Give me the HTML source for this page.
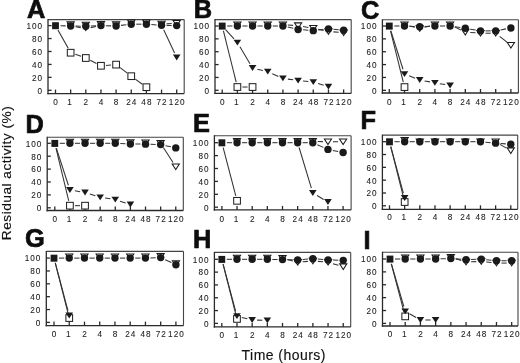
<!DOCTYPE html>
<html><head><meta charset="utf-8"><style>
html,body{margin:0;padding:0;background:#fff;}
body{width:520px;height:363px;overflow:hidden;}
svg{display:block;filter:blur(0.35px);}
.fr line{stroke:#2a2a2a;stroke-width:1.3;}
.fr line.lt{stroke:#444;stroke-width:1.1;}
.tl text{font-family:"Liberation Sans",sans-serif;font-size:8.2px;letter-spacing:1px;fill:#1a1a1a;stroke:#1a1a1a;stroke-width:0.08px;}
.pl{font-family:"Liberation Sans",sans-serif;font-weight:bold;font-size:25.4px;fill:#0d0d0d;stroke:#0d0d0d;stroke-width:0.7px;}
.ln line{stroke:#333;stroke-width:1.05;}
.fs{fill:#1a1a1a;}
.os{fill:#fff;stroke:#1a1a1a;stroke-width:1;}
.ot{fill:#fff;stroke:#1a1a1a;stroke-width:1.05;stroke-linejoin:miter;}
.ft{fill:#1a1a1a;}
.ci{fill:#1a1a1a;}
.ax{font-family:"Liberation Sans",sans-serif;font-size:13.5px;letter-spacing:0.5px;fill:#111;stroke:#111;stroke-width:0.15px;}
</style></head><body>
<svg width="520" height="363" viewBox="0 0 520 363">
<g>
<g class="fr">
<line class="lt" x1="48" y1="19.6" x2="184.2" y2="19.6"/>
<line class="lt" x1="184.2" y1="19.6" x2="184.2" y2="93.6"/>
<line x1="48" y1="19.1" x2="48" y2="94.3"/>
<line x1="47.3" y1="93.6" x2="184.2" y2="93.6"/>
<line x1="48" y1="90.3" x2="51.6" y2="90.3"/>
<line x1="48" y1="77.36" x2="51.6" y2="77.36"/>
<line x1="48" y1="64.42" x2="51.6" y2="64.42"/>
<line x1="48" y1="51.48" x2="51.6" y2="51.48"/>
<line x1="48" y1="38.54" x2="51.6" y2="38.54"/>
<line x1="48" y1="25.6" x2="51.6" y2="25.6"/>
<line x1="55.5" y1="93.6" x2="55.5" y2="89.6"/>
<line x1="70.65" y1="93.6" x2="70.65" y2="89.6"/>
<line x1="85.8" y1="93.6" x2="85.8" y2="89.6"/>
<line x1="100.95" y1="93.6" x2="100.95" y2="89.6"/>
<line x1="116.1" y1="93.6" x2="116.1" y2="89.6"/>
<line x1="131.25" y1="93.6" x2="131.25" y2="89.6"/>
<line x1="146.4" y1="93.6" x2="146.4" y2="89.6"/>
<line x1="161.55" y1="93.6" x2="161.55" y2="89.6"/>
<line x1="176.7" y1="93.6" x2="176.7" y2="89.6"/>
</g>
<g class="tl">
<text x="43.1" y="93.65" text-anchor="end">0</text>
<text x="43.1" y="80.71" text-anchor="end">20</text>
<text x="43.1" y="67.77" text-anchor="end">40</text>
<text x="43.1" y="54.83" text-anchor="end">60</text>
<text x="43.1" y="41.89" text-anchor="end">80</text>
<text x="43.1" y="28.95" text-anchor="end">100</text>
<text x="56" y="104.85" text-anchor="middle">0</text>
<text x="70.15" y="104.85" text-anchor="middle">1</text>
<text x="86.3" y="104.85" text-anchor="middle">2</text>
<text x="101.45" y="104.85" text-anchor="middle">4</text>
<text x="116.6" y="104.85" text-anchor="middle">8</text>
<text x="131.75" y="104.85" text-anchor="middle">24</text>
<text x="146.9" y="104.85" text-anchor="middle">48</text>
<text x="162.05" y="104.85" text-anchor="middle">72</text>
<text x="177.2" y="104.85" text-anchor="middle">120</text>
</g>
<text class="pl" x="27.1" y="17.8">A</text>
<g class="ln">
<line x1="57.94" y1="29.96" x2="68.21" y2="48.34"/>
<line x1="75.37" y1="54.36" x2="81.08" y2="56.36"/>
<line x1="90.25" y1="60.3" x2="96.5" y2="63.5"/>
<line x1="105.94" y1="65.4" x2="111.11" y2="65"/>
<line x1="120.07" y1="67.65" x2="127.28" y2="73.16"/>
<line x1="135.3" y1="79.13" x2="142.35" y2="84.26"/>
<line x1="75.58" y1="26.83" x2="80.87" y2="27.73"/>
<line x1="90.71" y1="27.61" x2="96.04" y2="26.56"/>
<line x1="163.68" y1="29.8" x2="174.57" y2="52.97"/>
<line x1="166.55" y1="23.77" x2="171.7" y2="23.55"/>
<line x1="60.5" y1="25.73" x2="65.65" y2="25.86"/>
<line x1="75.65" y1="26.07" x2="80.8" y2="26.16"/>
<line x1="90.8" y1="26.03" x2="95.95" y2="25.81"/>
<line x1="105.95" y1="25.73" x2="111.1" y2="25.86"/>
<line x1="121.06" y1="25.39" x2="126.29" y2="24.77"/>
<line x1="136.25" y1="24.18" x2="141.4" y2="24.18"/>
<line x1="151.39" y1="24.54" x2="156.56" y2="24.91"/>
<line x1="166.55" y1="25.38" x2="171.7" y2="25.49"/>
</g>
<g><rect class="fs" x="52.1" y="22.2" width="6.8" height="7.0"/><rect class="os" x="67.3" y="49.36" width="6.7" height="6.7"/><path class="ot" d="M67.05 21.89H74.25L70.65 27.49Z"/><path class="ft" d="M66.85 23.09H74.45L70.65 28.89Z"/><circle class="ci" cx="70.65" cy="25.99" r="3.7"/><rect class="os" x="82.45" y="54.66" width="6.7" height="6.7"/><path class="ot" d="M82.2 22.15H89.4L85.8 27.75Z"/><path class="ft" d="M82 25.68H89.6L85.8 31.48Z"/><circle class="ci" cx="85.8" cy="26.25" r="3.7"/><rect class="os" x="97.6" y="62.43" width="6.7" height="6.7"/><path class="ot" d="M97.35 21.51H104.55L100.95 27.11Z"/><path class="ft" d="M97.15 22.7H104.75L100.95 28.5Z"/><circle class="ci" cx="100.95" cy="25.6" r="3.7"/><rect class="os" x="112.75" y="61.26" width="6.7" height="6.7"/><path class="ot" d="M112.5 21.89H119.7L116.1 27.49Z"/><path class="ft" d="M112.3 23.09H119.9L116.1 28.89Z"/><circle class="ci" cx="116.1" cy="25.99" r="3.7"/><rect class="os" x="127.9" y="72.85" width="6.7" height="6.7"/><path class="ot" d="M127.65 20.08H134.85L131.25 25.68Z"/><path class="ft" d="M127.45 21.28H135.05L131.25 27.08Z"/><circle class="ci" cx="131.25" cy="24.18" r="3.7"/><rect class="os" x="143.05" y="83.84" width="6.7" height="6.7"/><path class="ot" d="M142.8 20.08H150L146.4 25.68Z"/><path class="ft" d="M142.6 21.28H150.2L146.4 27.08Z"/><circle class="ci" cx="146.4" cy="24.18" r="3.7"/><path class="ot" d="M157.95 21.18H165.15L161.55 26.78Z"/><path class="ft" d="M157.75 22.38H165.35L161.55 28.18Z"/><circle class="ci" cx="161.55" cy="25.28" r="3.7"/><path class="ot" d="M173.1 20.54H180.3L176.7 26.14Z"/><path class="ft" d="M172.9 54.6H180.5L176.7 60.4Z"/><circle class="ci" cx="176.7" cy="25.6" r="3.7"/></g>
<g class="fr">
<line class="lt" x1="215" y1="19.6" x2="351.2" y2="19.6"/>
<line class="lt" x1="351.2" y1="19.6" x2="351.2" y2="93.4"/>
<line x1="215" y1="19.1" x2="215" y2="94.1"/>
<line x1="214.3" y1="93.4" x2="351.2" y2="93.4"/>
<line x1="215" y1="90.3" x2="218.6" y2="90.3"/>
<line x1="215" y1="77.44" x2="218.6" y2="77.44"/>
<line x1="215" y1="64.58" x2="218.6" y2="64.58"/>
<line x1="215" y1="51.72" x2="218.6" y2="51.72"/>
<line x1="215" y1="38.86" x2="218.6" y2="38.86"/>
<line x1="215" y1="26" x2="218.6" y2="26"/>
<line x1="222.2" y1="93.4" x2="222.2" y2="89.4"/>
<line x1="237.38" y1="93.4" x2="237.38" y2="89.4"/>
<line x1="252.56" y1="93.4" x2="252.56" y2="89.4"/>
<line x1="267.74" y1="93.4" x2="267.74" y2="89.4"/>
<line x1="282.92" y1="93.4" x2="282.92" y2="89.4"/>
<line x1="298.1" y1="93.4" x2="298.1" y2="89.4"/>
<line x1="313.28" y1="93.4" x2="313.28" y2="89.4"/>
<line x1="328.46" y1="93.4" x2="328.46" y2="89.4"/>
<line x1="343.64" y1="93.4" x2="343.64" y2="89.4"/>
</g>
<g class="tl">
<text x="210.1" y="93.65" text-anchor="end">0</text>
<text x="210.1" y="80.79" text-anchor="end">20</text>
<text x="210.1" y="67.93" text-anchor="end">40</text>
<text x="210.1" y="55.07" text-anchor="end">60</text>
<text x="210.1" y="42.21" text-anchor="end">80</text>
<text x="210.1" y="29.35" text-anchor="end">100</text>
<text x="222.7" y="104.95" text-anchor="middle">0</text>
<text x="236.88" y="104.95" text-anchor="middle">1</text>
<text x="253.06" y="104.95" text-anchor="middle">2</text>
<text x="268.24" y="104.95" text-anchor="middle">4</text>
<text x="283.42" y="104.95" text-anchor="middle">8</text>
<text x="298.6" y="104.95" text-anchor="middle">24</text>
<text x="313.78" y="104.95" text-anchor="middle">48</text>
<text x="328.96" y="104.95" text-anchor="middle">72</text>
<text x="344.14" y="104.95" text-anchor="middle">120</text>
</g>
<text class="pl" x="193.8" y="17.8">B</text>
<g class="ln">
<line x1="223.41" y1="30.85" x2="236.17" y2="82.17"/>
<line x1="242.38" y1="87.02" x2="247.56" y2="87.02"/>
<line x1="225.58" y1="29.68" x2="234" y2="38.84"/>
<line x1="239.94" y1="46.82" x2="250" y2="63.69"/>
<line x1="257.43" y1="69.14" x2="262.87" y2="70.43"/>
<line x1="272.29" y1="73.65" x2="278.37" y2="76.4"/>
<line x1="287.87" y1="79.14" x2="293.15" y2="79.85"/>
<line x1="303.07" y1="81.03" x2="308.31" y2="81.56"/>
<line x1="318.07" y1="83.49" x2="323.67" y2="85.15"/>
<line x1="287.91" y1="25.03" x2="293.11" y2="25.36"/>
<line x1="303.03" y1="26.51" x2="308.35" y2="27.42"/>
<line x1="318.17" y1="29.29" x2="323.57" y2="30.43"/>
<line x1="333.44" y1="31.89" x2="338.66" y2="32.33"/>
<line x1="227.2" y1="26" x2="232.38" y2="26"/>
<line x1="242.38" y1="26" x2="247.56" y2="26"/>
<line x1="257.56" y1="26" x2="262.74" y2="26"/>
<line x1="272.74" y1="26" x2="277.92" y2="26"/>
<line x1="287.79" y1="27.11" x2="293.23" y2="28.36"/>
<line x1="303.09" y1="29.85" x2="308.29" y2="30.25"/>
<line x1="318.25" y1="30.06" x2="323.49" y2="29.46"/>
<line x1="333.44" y1="29.32" x2="338.66" y2="29.76"/>
</g>
<g><rect class="fs" x="218.8" y="22.6" width="6.8" height="7.0"/><rect class="os" x="234.03" y="83.67" width="6.7" height="6.7"/><path class="ot" d="M233.78 21.91H240.98L237.38 27.51Z"/><path class="ft" d="M233.58 39.63H241.18L237.38 45.43Z"/><circle class="ci" cx="237.38" cy="26" r="3.7"/><rect class="os" x="249.21" y="83.67" width="6.7" height="6.7"/><path class="ot" d="M248.96 21.91H256.16L252.56 27.51Z"/><path class="ft" d="M248.76 65.09H256.36L252.56 70.89Z"/><circle class="ci" cx="252.56" cy="26" r="3.7"/><path class="ot" d="M264.14 21.91H271.34L267.74 27.51Z"/><path class="ft" d="M263.94 68.69H271.54L267.74 74.49Z"/><circle class="ci" cx="267.74" cy="26" r="3.7"/><path class="ot" d="M279.32 21.91H286.52L282.92 27.51Z"/><path class="ft" d="M279.12 75.57H286.72L282.92 81.37Z"/><circle class="ci" cx="282.92" cy="26" r="3.7"/><path class="ot" d="M294.5 22.88H301.7L298.1 28.48Z"/><path class="ft" d="M294.3 77.63H301.9L298.1 83.43Z"/><circle class="ci" cx="298.1" cy="29.47" r="3.7"/><path class="ot" d="M309.68 25.45H316.88L313.28 31.05Z"/><path class="ft" d="M309.48 79.17H317.08L313.28 84.97Z"/><circle class="ci" cx="313.28" cy="30.63" r="3.7"/><path class="ot" d="M324.86 28.67H332.06L328.46 34.27Z"/><path class="ft" d="M324.66 83.67H332.26L328.46 89.47Z"/><circle class="ci" cx="328.46" cy="28.89" r="3.7"/><path class="ot" d="M340.04 29.95H347.24L343.64 35.55Z"/><circle class="ci" cx="343.64" cy="30.18" r="3.7"/></g>
<g class="fr">
<line class="lt" x1="382.4" y1="19.8" x2="518.4" y2="19.8"/>
<line class="lt" x1="518.4" y1="19.8" x2="518.4" y2="93"/>
<line x1="382.4" y1="19.3" x2="382.4" y2="93.7"/>
<line x1="381.7" y1="93" x2="518.4" y2="93"/>
<line x1="382.4" y1="90.3" x2="386" y2="90.3"/>
<line x1="382.4" y1="77.44" x2="386" y2="77.44"/>
<line x1="382.4" y1="64.58" x2="386" y2="64.58"/>
<line x1="382.4" y1="51.72" x2="386" y2="51.72"/>
<line x1="382.4" y1="38.86" x2="386" y2="38.86"/>
<line x1="382.4" y1="26" x2="386" y2="26"/>
<line x1="389.3" y1="93" x2="389.3" y2="89"/>
<line x1="404.5" y1="93" x2="404.5" y2="89"/>
<line x1="419.7" y1="93" x2="419.7" y2="89"/>
<line x1="434.9" y1="93" x2="434.9" y2="89"/>
<line x1="450.1" y1="93" x2="450.1" y2="89"/>
<line x1="465.3" y1="93" x2="465.3" y2="89"/>
<line x1="480.5" y1="93" x2="480.5" y2="89"/>
<line x1="495.7" y1="93" x2="495.7" y2="89"/>
<line x1="510.9" y1="93" x2="510.9" y2="89"/>
</g>
<g class="tl">
<text x="377.5" y="93.65" text-anchor="end">0</text>
<text x="377.5" y="80.79" text-anchor="end">20</text>
<text x="377.5" y="67.93" text-anchor="end">40</text>
<text x="377.5" y="55.07" text-anchor="end">60</text>
<text x="377.5" y="42.21" text-anchor="end">80</text>
<text x="377.5" y="29.35" text-anchor="end">100</text>
<text x="389.8" y="104.85" text-anchor="middle">0</text>
<text x="404" y="104.85" text-anchor="middle">1</text>
<text x="420.2" y="104.85" text-anchor="middle">2</text>
<text x="435.4" y="104.85" text-anchor="middle">4</text>
<text x="450.6" y="104.85" text-anchor="middle">8</text>
<text x="465.8" y="104.85" text-anchor="middle">24</text>
<text x="481" y="104.85" text-anchor="middle">48</text>
<text x="496.2" y="104.85" text-anchor="middle">72</text>
<text x="511.4" y="104.85" text-anchor="middle">120</text>
</g>
<text class="pl" x="360.9" y="18.7">C</text>
<g class="ln">
<line x1="390.51" y1="30.85" x2="403.29" y2="82.23"/>
<line x1="390.81" y1="30.77" x2="402.99" y2="69.27"/>
<line x1="409.15" y1="75.86" x2="415.05" y2="78.18"/>
<line x1="424.62" y1="80.91" x2="429.98" y2="81.88"/>
<line x1="439.82" y1="83.65" x2="445.18" y2="84.6"/>
<line x1="409.35" y1="25.94" x2="414.85" y2="27.34"/>
<line x1="424.55" y1="27.34" x2="430.05" y2="25.94"/>
<line x1="454.6" y1="26.9" x2="460.8" y2="29.92"/>
<line x1="470.29" y1="32.47" x2="475.51" y2="32.84"/>
<line x1="485.5" y1="33.2" x2="490.7" y2="33.2"/>
<line x1="499.62" y1="36.3" x2="506.98" y2="42.12"/>
<line x1="394.3" y1="26" x2="399.5" y2="26"/>
<line x1="409.49" y1="26.25" x2="414.71" y2="26.52"/>
<line x1="424.69" y1="26.52" x2="429.91" y2="26.25"/>
<line x1="439.9" y1="26" x2="445.1" y2="26"/>
<line x1="455.04" y1="26.75" x2="460.36" y2="27.56"/>
<line x1="470.23" y1="29.15" x2="475.57" y2="30.05"/>
<line x1="485.5" y1="30.89" x2="490.7" y2="30.89"/>
<line x1="500.61" y1="29.93" x2="505.99" y2="28.88"/>
</g>
<g><rect class="fs" x="385.9" y="22.6" width="6.8" height="7.0"/><rect class="os" x="401.15" y="83.73" width="6.7" height="6.7"/><path class="ot" d="M400.9 21.91H408.1L404.5 27.51Z"/><path class="ft" d="M400.7 71.13H408.3L404.5 76.93Z"/><circle class="ci" cx="404.5" cy="26" r="3.7"/><path class="ot" d="M416.1 25.77H423.3L419.7 31.37Z"/><path class="ft" d="M415.9 77.11H423.5L419.7 82.91Z"/><circle class="ci" cx="419.7" cy="26.77" r="3.7"/><path class="ot" d="M431.3 21.91H438.5L434.9 27.51Z"/><path class="ft" d="M431.1 79.88H438.7L434.9 85.68Z"/><circle class="ci" cx="434.9" cy="26" r="3.7"/><path class="ot" d="M446.5 21.91H453.7L450.1 27.51Z"/><path class="ft" d="M446.3 82.58H453.9L450.1 88.38Z"/><circle class="ci" cx="450.1" cy="26" r="3.7"/><path class="ot" d="M461.7 29.31H468.9L465.3 34.91Z"/><circle class="ci" cx="465.3" cy="28.31" r="3.7"/><path class="ot" d="M476.9 30.4H484.1L480.5 36Z"/><circle class="ci" cx="480.5" cy="30.89" r="3.7"/><path class="ot" d="M492.1 30.4H499.3L495.7 36Z"/><circle class="ci" cx="495.7" cy="30.89" r="3.7"/><path class="ot" d="M507.3 42.43H514.5L510.9 48.03Z"/><circle class="ci" cx="510.9" cy="27.93" r="3.7"/></g>
<g class="fr">
<line class="lt" x1="47.2" y1="137.3" x2="183.3" y2="137.3"/>
<line class="lt" x1="183.3" y1="137.3" x2="183.3" y2="210.5"/>
<line x1="47.2" y1="136.8" x2="47.2" y2="211.2"/>
<line x1="46.5" y1="210.5" x2="183.3" y2="210.5"/>
<line x1="47.2" y1="207.8" x2="50.8" y2="207.8"/>
<line x1="47.2" y1="194.9" x2="50.8" y2="194.9"/>
<line x1="47.2" y1="182" x2="50.8" y2="182"/>
<line x1="47.2" y1="169.1" x2="50.8" y2="169.1"/>
<line x1="47.2" y1="156.2" x2="50.8" y2="156.2"/>
<line x1="47.2" y1="143.3" x2="50.8" y2="143.3"/>
<line x1="54.8" y1="210.5" x2="54.8" y2="206.5"/>
<line x1="69.92" y1="210.5" x2="69.92" y2="206.5"/>
<line x1="85.04" y1="210.5" x2="85.04" y2="206.5"/>
<line x1="100.16" y1="210.5" x2="100.16" y2="206.5"/>
<line x1="115.28" y1="210.5" x2="115.28" y2="206.5"/>
<line x1="130.4" y1="210.5" x2="130.4" y2="206.5"/>
<line x1="145.52" y1="210.5" x2="145.52" y2="206.5"/>
<line x1="160.64" y1="210.5" x2="160.64" y2="206.5"/>
<line x1="175.76" y1="210.5" x2="175.76" y2="206.5"/>
</g>
<g class="tl">
<text x="42.3" y="211.15" text-anchor="end">0</text>
<text x="42.3" y="198.25" text-anchor="end">20</text>
<text x="42.3" y="185.35" text-anchor="end">40</text>
<text x="42.3" y="172.45" text-anchor="end">60</text>
<text x="42.3" y="159.55" text-anchor="end">80</text>
<text x="42.3" y="146.65" text-anchor="end">100</text>
<text x="55.3" y="222.15" text-anchor="middle">0</text>
<text x="69.42" y="222.15" text-anchor="middle">1</text>
<text x="85.54" y="222.15" text-anchor="middle">2</text>
<text x="100.66" y="222.15" text-anchor="middle">4</text>
<text x="115.78" y="222.15" text-anchor="middle">8</text>
<text x="130.9" y="222.15" text-anchor="middle">24</text>
<text x="146.02" y="222.15" text-anchor="middle">48</text>
<text x="161.14" y="222.15" text-anchor="middle">72</text>
<text x="176.26" y="222.15" text-anchor="middle">120</text>
</g>
<text class="pl" x="25.5" y="133">D</text>
<g class="ln">
<line x1="55.98" y1="148.16" x2="68.74" y2="200.81"/>
<line x1="74.92" y1="205.67" x2="80.04" y2="205.67"/>
<line x1="56.34" y1="148.06" x2="68.38" y2="185.24"/>
<line x1="74.85" y1="190.82" x2="80.11" y2="191.69"/>
<line x1="89.81" y1="194.02" x2="95.39" y2="195.78"/>
<line x1="105.1" y1="198.05" x2="110.34" y2="198.85"/>
<line x1="120.04" y1="201.15" x2="125.64" y2="202.97"/>
<line x1="163.35" y1="147.5" x2="173.05" y2="162.51"/>
<line x1="59.8" y1="143.3" x2="64.92" y2="143.3"/>
<line x1="74.92" y1="143.3" x2="80.04" y2="143.3"/>
<line x1="90.04" y1="143.3" x2="95.16" y2="143.3"/>
<line x1="105.16" y1="143.3" x2="110.28" y2="143.3"/>
<line x1="120.28" y1="143.51" x2="125.4" y2="143.73"/>
<line x1="135.4" y1="144.01" x2="140.52" y2="144.07"/>
<line x1="150.52" y1="144.29" x2="155.64" y2="144.44"/>
<line x1="165.53" y1="145.65" x2="170.87" y2="146.82"/>
</g>
<g><rect class="fs" x="51.4" y="139.9" width="6.8" height="7.0"/><rect class="os" x="66.57" y="202.32" width="6.7" height="6.7"/><path class="ot" d="M66.32 139.21H73.52L69.92 144.81Z"/><path class="ft" d="M66.12 187.1H73.72L69.92 192.9Z"/><circle class="ci" cx="69.92" cy="143.3" r="3.7"/><rect class="os" x="81.69" y="202.32" width="6.7" height="6.7"/><path class="ot" d="M81.44 139.21H88.64L85.04 144.81Z"/><path class="ft" d="M81.24 189.61H88.84L85.04 195.41Z"/><circle class="ci" cx="85.04" cy="143.3" r="3.7"/><path class="ot" d="M96.56 139.21H103.76L100.16 144.81Z"/><path class="ft" d="M96.36 194.39H103.96L100.16 200.19Z"/><circle class="ci" cx="100.16" cy="143.3" r="3.7"/><path class="ot" d="M111.68 139.21H118.88L115.28 144.81Z"/><path class="ft" d="M111.48 196.71H119.08L115.28 202.51Z"/><circle class="ci" cx="115.28" cy="143.3" r="3.7"/><path class="ot" d="M126.8 139.86H134L130.4 145.46Z"/><path class="ft" d="M126.6 201.61H134.2L130.4 207.41Z"/><circle class="ci" cx="130.4" cy="143.95" r="3.7"/><path class="ot" d="M141.92 140.05H149.12L145.52 145.65Z"/><circle class="ci" cx="145.52" cy="144.14" r="3.7"/><path class="ot" d="M157.04 140.5H164.24L160.64 146.1Z"/><circle class="ci" cx="160.64" cy="144.59" r="3.7"/><path class="ot" d="M172.16 163.91H179.36L175.76 169.51Z"/><circle class="ci" cx="175.76" cy="147.88" r="3.7"/></g>
<g class="fr">
<line class="lt" x1="214.4" y1="135.7" x2="351.1" y2="135.7"/>
<line class="lt" x1="351.1" y1="135.7" x2="351.1" y2="209.9"/>
<line x1="214.4" y1="135.2" x2="214.4" y2="210.6"/>
<line x1="213.7" y1="209.9" x2="351.1" y2="209.9"/>
<line x1="214.4" y1="207.2" x2="218" y2="207.2"/>
<line x1="214.4" y1="194.3" x2="218" y2="194.3"/>
<line x1="214.4" y1="181.4" x2="218" y2="181.4"/>
<line x1="214.4" y1="168.5" x2="218" y2="168.5"/>
<line x1="214.4" y1="155.6" x2="218" y2="155.6"/>
<line x1="214.4" y1="142.7" x2="218" y2="142.7"/>
<line x1="221.9" y1="209.9" x2="221.9" y2="205.9"/>
<line x1="237.05" y1="209.9" x2="237.05" y2="205.9"/>
<line x1="252.2" y1="209.9" x2="252.2" y2="205.9"/>
<line x1="267.35" y1="209.9" x2="267.35" y2="205.9"/>
<line x1="282.5" y1="209.9" x2="282.5" y2="205.9"/>
<line x1="297.65" y1="209.9" x2="297.65" y2="205.9"/>
<line x1="312.8" y1="209.9" x2="312.8" y2="205.9"/>
<line x1="327.95" y1="209.9" x2="327.95" y2="205.9"/>
<line x1="343.1" y1="209.9" x2="343.1" y2="205.9"/>
</g>
<g class="tl">
<text x="209.5" y="210.55" text-anchor="end">0</text>
<text x="209.5" y="197.65" text-anchor="end">20</text>
<text x="209.5" y="184.75" text-anchor="end">40</text>
<text x="209.5" y="171.85" text-anchor="end">60</text>
<text x="209.5" y="158.95" text-anchor="end">80</text>
<text x="209.5" y="146.05" text-anchor="end">100</text>
<text x="222.4" y="221.75" text-anchor="middle">0</text>
<text x="236.55" y="221.75" text-anchor="middle">1</text>
<text x="252.7" y="221.75" text-anchor="middle">2</text>
<text x="267.85" y="221.75" text-anchor="middle">4</text>
<text x="283" y="221.75" text-anchor="middle">8</text>
<text x="298.15" y="221.75" text-anchor="middle">24</text>
<text x="313.3" y="221.75" text-anchor="middle">48</text>
<text x="328.45" y="221.75" text-anchor="middle">72</text>
<text x="343.6" y="221.75" text-anchor="middle">120</text>
</g>
<text class="pl" x="192.9" y="132">E</text>
<g class="ln">
<line x1="223.16" y1="147.54" x2="235.79" y2="195.98"/>
<line x1="299.09" y1="147.49" x2="311.36" y2="188.22"/>
<line x1="317.1" y1="195.56" x2="323.65" y2="199.43"/>
<line x1="317.8" y1="141.52" x2="322.95" y2="141.63"/>
<line x1="332.95" y1="141.73" x2="338.1" y2="141.73"/>
<line x1="226.9" y1="142.7" x2="232.05" y2="142.7"/>
<line x1="242.05" y1="142.7" x2="247.2" y2="142.7"/>
<line x1="257.2" y1="142.7" x2="262.35" y2="142.7"/>
<line x1="272.35" y1="142.7" x2="277.5" y2="142.7"/>
<line x1="287.5" y1="142.7" x2="292.65" y2="142.7"/>
<line x1="302.65" y1="142.7" x2="307.8" y2="142.7"/>
<line x1="317.37" y1="144.72" x2="323.38" y2="147.38"/>
<line x1="332.85" y1="150.41" x2="338.2" y2="151.5"/>
</g>
<g><rect class="fs" x="218.5" y="139.3" width="6.8" height="7.0"/><rect class="os" x="233.7" y="197.46" width="6.7" height="6.7"/><path class="ot" d="M233.45 138.61H240.65L237.05 144.21Z"/><path class="ft" d="M233.25 139.8H240.85L237.05 145.6Z"/><circle class="ci" cx="237.05" cy="142.7" r="3.7"/><path class="ot" d="M248.6 138.61H255.8L252.2 144.21Z"/><path class="ft" d="M248.4 139.8H256L252.2 145.6Z"/><circle class="ci" cx="252.2" cy="142.7" r="3.7"/><path class="ot" d="M263.75 138.61H270.95L267.35 144.21Z"/><path class="ft" d="M263.55 139.8H271.15L267.35 145.6Z"/><circle class="ci" cx="267.35" cy="142.7" r="3.7"/><path class="ot" d="M278.9 138.61H286.1L282.5 144.21Z"/><path class="ft" d="M278.7 139.8H286.3L282.5 145.6Z"/><circle class="ci" cx="282.5" cy="142.7" r="3.7"/><path class="ot" d="M294.05 138.61H301.25L297.65 144.21Z"/><path class="ft" d="M293.85 139.8H301.45L297.65 145.6Z"/><circle class="ci" cx="297.65" cy="142.7" r="3.7"/><path class="ot" d="M309.2 138.61H316.4L312.8 144.21Z"/><path class="ft" d="M309 190.11H316.6L312.8 195.91Z"/><circle class="ci" cx="312.8" cy="142.7" r="3.7"/><path class="ot" d="M324.35 138.93H331.55L327.95 144.53Z"/><path class="ft" d="M324.15 199.08H331.75L327.95 204.88Z"/><circle class="ci" cx="327.95" cy="149.41" r="3.7"/><path class="ot" d="M339.5 138.93H346.7L343.1 144.53Z"/><circle class="ci" cx="343.1" cy="152.5" r="3.7"/></g>
<g class="fr">
<line class="lt" x1="382.4" y1="135.1" x2="517.7" y2="135.1"/>
<line class="lt" x1="517.7" y1="135.1" x2="517.7" y2="209.3"/>
<line x1="382.4" y1="134.6" x2="382.4" y2="210"/>
<line x1="381.7" y1="209.3" x2="517.7" y2="209.3"/>
<line x1="382.4" y1="205.8" x2="386" y2="205.8"/>
<line x1="382.4" y1="192.98" x2="386" y2="192.98"/>
<line x1="382.4" y1="180.16" x2="386" y2="180.16"/>
<line x1="382.4" y1="167.34" x2="386" y2="167.34"/>
<line x1="382.4" y1="154.52" x2="386" y2="154.52"/>
<line x1="382.4" y1="141.7" x2="386" y2="141.7"/>
<line x1="389.5" y1="209.3" x2="389.5" y2="205.3"/>
<line x1="404.66" y1="209.3" x2="404.66" y2="205.3"/>
<line x1="419.82" y1="209.3" x2="419.82" y2="205.3"/>
<line x1="434.98" y1="209.3" x2="434.98" y2="205.3"/>
<line x1="450.14" y1="209.3" x2="450.14" y2="205.3"/>
<line x1="465.3" y1="209.3" x2="465.3" y2="205.3"/>
<line x1="480.46" y1="209.3" x2="480.46" y2="205.3"/>
<line x1="495.62" y1="209.3" x2="495.62" y2="205.3"/>
<line x1="510.78" y1="209.3" x2="510.78" y2="205.3"/>
</g>
<g class="tl">
<text x="377.5" y="209.15" text-anchor="end">0</text>
<text x="377.5" y="196.33" text-anchor="end">20</text>
<text x="377.5" y="183.51" text-anchor="end">40</text>
<text x="377.5" y="170.69" text-anchor="end">60</text>
<text x="377.5" y="157.87" text-anchor="end">80</text>
<text x="377.5" y="145.05" text-anchor="end">100</text>
<text x="390" y="220.15" text-anchor="middle">0</text>
<text x="404.16" y="220.15" text-anchor="middle">1</text>
<text x="420.32" y="220.15" text-anchor="middle">2</text>
<text x="435.48" y="220.15" text-anchor="middle">4</text>
<text x="450.64" y="220.15" text-anchor="middle">8</text>
<text x="465.8" y="220.15" text-anchor="middle">24</text>
<text x="480.96" y="220.15" text-anchor="middle">48</text>
<text x="496.12" y="220.15" text-anchor="middle">72</text>
<text x="511.28" y="220.15" text-anchor="middle">120</text>
</g>
<text class="pl" x="360.6" y="128.9">F</text>
<g class="ln">
<line x1="390.72" y1="146.55" x2="403.44" y2="197.17"/>
<line x1="390.8" y1="146.53" x2="403.36" y2="193.15"/>
<line x1="499.95" y1="144.4" x2="506.45" y2="148.17"/>
<line x1="394.5" y1="141.7" x2="399.66" y2="141.7"/>
<line x1="409.66" y1="141.7" x2="414.82" y2="141.7"/>
<line x1="424.82" y1="141.7" x2="429.98" y2="141.7"/>
<line x1="439.98" y1="141.7" x2="445.14" y2="141.7"/>
<line x1="455.14" y1="141.7" x2="460.3" y2="141.7"/>
<line x1="470.3" y1="141.7" x2="475.46" y2="141.7"/>
<line x1="485.44" y1="142.18" x2="490.64" y2="142.69"/>
<line x1="500.61" y1="143.51" x2="505.79" y2="143.86"/>
</g>
<g><rect class="fs" x="386.1" y="138.3" width="6.8" height="7.0"/><rect class="os" x="401.31" y="198.67" width="6.7" height="6.7"/><path class="ot" d="M401.06 137.62H408.26L404.66 143.22Z"/><path class="ft" d="M400.86 195.08H408.46L404.66 200.88Z"/><circle class="ci" cx="404.66" cy="141.7" r="3.7"/><path class="ot" d="M416.22 138.9H423.42L419.82 144.5Z"/><circle class="ci" cx="419.82" cy="141.7" r="3.7"/><path class="ot" d="M431.38 138.9H438.58L434.98 144.5Z"/><circle class="ci" cx="434.98" cy="141.7" r="3.7"/><path class="ot" d="M446.54 138.9H453.74L450.14 144.5Z"/><circle class="ci" cx="450.14" cy="141.7" r="3.7"/><path class="ot" d="M461.7 138.9H468.9L465.3 144.5Z"/><circle class="ci" cx="465.3" cy="141.7" r="3.7"/><path class="ot" d="M476.86 138.9H484.06L480.46 144.5Z"/><circle class="ci" cx="480.46" cy="141.7" r="3.7"/><path class="ot" d="M492.02 139.09H499.22L495.62 144.69Z"/><circle class="ci" cx="495.62" cy="143.17" r="3.7"/><path class="ot" d="M507.18 147.87H514.38L510.78 153.47Z"/><circle class="ci" cx="510.78" cy="144.2" r="3.7"/></g>
<g class="fr">
<line class="lt" x1="46.3" y1="251.4" x2="183.5" y2="251.4"/>
<line class="lt" x1="183.5" y1="251.4" x2="183.5" y2="325.6"/>
<line x1="46.3" y1="250.9" x2="46.3" y2="326.3"/>
<line x1="45.6" y1="325.6" x2="183.5" y2="325.6"/>
<line x1="46.3" y1="322.4" x2="49.9" y2="322.4"/>
<line x1="46.3" y1="309.54" x2="49.9" y2="309.54"/>
<line x1="46.3" y1="296.68" x2="49.9" y2="296.68"/>
<line x1="46.3" y1="283.82" x2="49.9" y2="283.82"/>
<line x1="46.3" y1="270.96" x2="49.9" y2="270.96"/>
<line x1="46.3" y1="258.1" x2="49.9" y2="258.1"/>
<line x1="54" y1="325.6" x2="54" y2="321.6"/>
<line x1="69.24" y1="325.6" x2="69.24" y2="321.6"/>
<line x1="84.48" y1="325.6" x2="84.48" y2="321.6"/>
<line x1="99.72" y1="325.6" x2="99.72" y2="321.6"/>
<line x1="114.96" y1="325.6" x2="114.96" y2="321.6"/>
<line x1="130.2" y1="325.6" x2="130.2" y2="321.6"/>
<line x1="145.44" y1="325.6" x2="145.44" y2="321.6"/>
<line x1="160.68" y1="325.6" x2="160.68" y2="321.6"/>
<line x1="175.92" y1="325.6" x2="175.92" y2="321.6"/>
</g>
<g class="tl">
<text x="41.4" y="325.75" text-anchor="end">0</text>
<text x="41.4" y="312.89" text-anchor="end">20</text>
<text x="41.4" y="300.03" text-anchor="end">40</text>
<text x="41.4" y="287.17" text-anchor="end">60</text>
<text x="41.4" y="274.31" text-anchor="end">80</text>
<text x="41.4" y="261.45" text-anchor="end">100</text>
<text x="54.5" y="337.05" text-anchor="middle">0</text>
<text x="68.74" y="337.05" text-anchor="middle">1</text>
<text x="84.98" y="337.05" text-anchor="middle">2</text>
<text x="100.22" y="337.05" text-anchor="middle">4</text>
<text x="115.46" y="337.05" text-anchor="middle">8</text>
<text x="130.7" y="337.05" text-anchor="middle">24</text>
<text x="145.94" y="337.05" text-anchor="middle">48</text>
<text x="161.18" y="337.05" text-anchor="middle">72</text>
<text x="176.42" y="337.05" text-anchor="middle">120</text>
</g>
<text class="pl" x="25" y="247.2">G</text>
<g class="ln">
<line x1="55.23" y1="262.95" x2="68.01" y2="313.18"/>
<line x1="55.28" y1="262.93" x2="67.96" y2="310.69"/>
<line x1="59" y1="258.1" x2="64.24" y2="258.1"/>
<line x1="74.24" y1="258.1" x2="79.48" y2="258.1"/>
<line x1="89.48" y1="258.1" x2="94.72" y2="258.1"/>
<line x1="104.72" y1="258.1" x2="109.96" y2="258.1"/>
<line x1="119.96" y1="258.1" x2="125.2" y2="258.1"/>
<line x1="135.2" y1="258.1" x2="140.44" y2="258.1"/>
<line x1="150.44" y1="257.93" x2="155.68" y2="257.75"/>
<line x1="165.21" y1="259.71" x2="171.39" y2="262.6"/>
</g>
<g><rect class="fs" x="50.6" y="254.7" width="6.8" height="7.0"/><rect class="os" x="65.89" y="314.68" width="6.7" height="6.7"/><path class="ot" d="M65.64 254.01H72.84L69.24 259.61Z"/><path class="ft" d="M65.44 312.62H73.04L69.24 318.42Z"/><circle class="ci" cx="69.24" cy="258.1" r="3.7"/><path class="ot" d="M80.88 254.01H88.08L84.48 259.61Z"/><circle class="ci" cx="84.48" cy="258.1" r="3.7"/><path class="ot" d="M96.12 254.01H103.32L99.72 259.61Z"/><circle class="ci" cx="99.72" cy="258.1" r="3.7"/><path class="ot" d="M111.36 254.01H118.56L114.96 259.61Z"/><circle class="ci" cx="114.96" cy="258.1" r="3.7"/><path class="ot" d="M126.6 254.01H133.8L130.2 259.61Z"/><circle class="ci" cx="130.2" cy="258.1" r="3.7"/><path class="ot" d="M141.84 254.01H149.04L145.44 259.61Z"/><circle class="ci" cx="145.44" cy="258.1" r="3.7"/><path class="ot" d="M157.08 253.5H164.28L160.68 259.1Z"/><circle class="ci" cx="160.68" cy="257.59" r="3.7"/><path class="ot" d="M172.32 260.77H179.52L175.92 266.37Z"/><circle class="ci" cx="175.92" cy="264.72" r="3.7"/></g>
<g class="fr">
<line class="lt" x1="214.4" y1="252.4" x2="350.7" y2="252.4"/>
<line class="lt" x1="350.7" y1="252.4" x2="350.7" y2="326.9"/>
<line x1="214.4" y1="251.9" x2="214.4" y2="327.6"/>
<line x1="213.7" y1="326.9" x2="350.7" y2="326.9"/>
<line x1="214.4" y1="323.4" x2="218" y2="323.4"/>
<line x1="214.4" y1="310.58" x2="218" y2="310.58"/>
<line x1="214.4" y1="297.76" x2="218" y2="297.76"/>
<line x1="214.4" y1="284.94" x2="218" y2="284.94"/>
<line x1="214.4" y1="272.12" x2="218" y2="272.12"/>
<line x1="214.4" y1="259.3" x2="218" y2="259.3"/>
<line x1="221.8" y1="326.9" x2="221.8" y2="322.9"/>
<line x1="236.98" y1="326.9" x2="236.98" y2="322.9"/>
<line x1="252.16" y1="326.9" x2="252.16" y2="322.9"/>
<line x1="267.34" y1="326.9" x2="267.34" y2="322.9"/>
<line x1="282.52" y1="326.9" x2="282.52" y2="322.9"/>
<line x1="297.7" y1="326.9" x2="297.7" y2="322.9"/>
<line x1="312.88" y1="326.9" x2="312.88" y2="322.9"/>
<line x1="328.06" y1="326.9" x2="328.06" y2="322.9"/>
<line x1="343.24" y1="326.9" x2="343.24" y2="322.9"/>
</g>
<g class="tl">
<text x="209.5" y="326.75" text-anchor="end">0</text>
<text x="209.5" y="313.93" text-anchor="end">20</text>
<text x="209.5" y="301.11" text-anchor="end">40</text>
<text x="209.5" y="288.29" text-anchor="end">60</text>
<text x="209.5" y="275.47" text-anchor="end">80</text>
<text x="209.5" y="262.65" text-anchor="end">100</text>
<text x="222.3" y="338.35" text-anchor="middle">0</text>
<text x="236.48" y="338.35" text-anchor="middle">1</text>
<text x="252.66" y="338.35" text-anchor="middle">2</text>
<text x="267.84" y="338.35" text-anchor="middle">4</text>
<text x="283.02" y="338.35" text-anchor="middle">8</text>
<text x="298.2" y="338.35" text-anchor="middle">24</text>
<text x="313.38" y="338.35" text-anchor="middle">48</text>
<text x="328.56" y="338.35" text-anchor="middle">72</text>
<text x="343.74" y="338.35" text-anchor="middle">120</text>
</g>
<text class="pl" x="192.9" y="247.7">H</text>
<g class="ln">
<line x1="223.03" y1="264.15" x2="235.75" y2="314.07"/>
<line x1="223.09" y1="264.13" x2="235.69" y2="311.39"/>
<line x1="241.83" y1="317.43" x2="247.31" y2="318.79"/>
<line x1="257.16" y1="320.11" x2="262.34" y2="320.22"/>
<line x1="287.36" y1="259.59" x2="292.86" y2="261"/>
<line x1="302.68" y1="261.83" x2="307.9" y2="261.39"/>
<line x1="317.86" y1="261.39" x2="323.08" y2="261.83"/>
<line x1="332.86" y1="263.65" x2="338.44" y2="265.27"/>
<line x1="226.8" y1="259.3" x2="231.98" y2="259.3"/>
<line x1="241.98" y1="259.3" x2="247.16" y2="259.3"/>
<line x1="257.16" y1="259.3" x2="262.34" y2="259.3"/>
<line x1="272.34" y1="259.41" x2="277.52" y2="259.51"/>
<line x1="287.52" y1="259.73" x2="292.7" y2="259.84"/>
<line x1="302.68" y1="259.52" x2="307.9" y2="259.08"/>
<line x1="317.86" y1="259.08" x2="323.08" y2="259.52"/>
<line x1="333.06" y1="260.07" x2="338.24" y2="260.2"/>
</g>
<g><rect class="fs" x="218.4" y="255.9" width="6.8" height="7.0"/><rect class="os" x="233.63" y="315.56" width="6.7" height="6.7"/><path class="ot" d="M233.38 255.22H240.58L236.98 260.82Z"/><path class="ft" d="M233.18 313.32H240.78L236.98 319.12Z"/><circle class="ci" cx="236.98" cy="259.3" r="3.7"/><path class="ot" d="M248.56 255.22H255.76L252.16 260.82Z"/><path class="ft" d="M248.36 317.1H255.96L252.16 322.9Z"/><circle class="ci" cx="252.16" cy="259.3" r="3.7"/><path class="ot" d="M263.74 255.22H270.94L267.34 260.82Z"/><path class="ft" d="M263.54 317.42H271.14L267.34 323.22Z"/><circle class="ci" cx="267.34" cy="259.3" r="3.7"/><path class="ot" d="M278.92 255.54H286.12L282.52 261.14Z"/><circle class="ci" cx="282.52" cy="259.62" r="3.7"/><path class="ot" d="M294.1 259.45H301.3L297.7 265.05Z"/><circle class="ci" cx="297.7" cy="259.94" r="3.7"/><path class="ot" d="M309.28 258.17H316.48L312.88 263.77Z"/><circle class="ci" cx="312.88" cy="258.66" r="3.7"/><path class="ot" d="M324.46 259.45H331.66L328.06 265.05Z"/><circle class="ci" cx="328.06" cy="259.94" r="3.7"/><path class="ot" d="M339.64 263.87H346.84L343.24 269.47Z"/><circle class="ci" cx="343.24" cy="260.33" r="3.7"/></g>
<g class="fr">
<line class="lt" x1="382.5" y1="252.2" x2="518" y2="252.2"/>
<line class="lt" x1="518" y1="252.2" x2="518" y2="326"/>
<line x1="382.5" y1="251.7" x2="382.5" y2="326.7"/>
<line x1="381.8" y1="326" x2="518" y2="326"/>
<line x1="382.5" y1="323.4" x2="386.1" y2="323.4"/>
<line x1="382.5" y1="310.52" x2="386.1" y2="310.52"/>
<line x1="382.5" y1="297.64" x2="386.1" y2="297.64"/>
<line x1="382.5" y1="284.76" x2="386.1" y2="284.76"/>
<line x1="382.5" y1="271.88" x2="386.1" y2="271.88"/>
<line x1="382.5" y1="259" x2="386.1" y2="259"/>
<line x1="390" y1="326" x2="390" y2="322"/>
<line x1="405.21" y1="326" x2="405.21" y2="322"/>
<line x1="420.42" y1="326" x2="420.42" y2="322"/>
<line x1="435.63" y1="326" x2="435.63" y2="322"/>
<line x1="450.84" y1="326" x2="450.84" y2="322"/>
<line x1="466.05" y1="326" x2="466.05" y2="322"/>
<line x1="481.26" y1="326" x2="481.26" y2="322"/>
<line x1="496.47" y1="326" x2="496.47" y2="322"/>
<line x1="511.68" y1="326" x2="511.68" y2="322"/>
</g>
<g class="tl">
<text x="377.6" y="326.75" text-anchor="end">0</text>
<text x="377.6" y="313.87" text-anchor="end">20</text>
<text x="377.6" y="300.99" text-anchor="end">40</text>
<text x="377.6" y="288.11" text-anchor="end">60</text>
<text x="377.6" y="275.23" text-anchor="end">80</text>
<text x="377.6" y="262.35" text-anchor="end">100</text>
<text x="390.5" y="337.35" text-anchor="middle">0</text>
<text x="404.71" y="337.35" text-anchor="middle">1</text>
<text x="420.92" y="337.35" text-anchor="middle">2</text>
<text x="436.13" y="337.35" text-anchor="middle">4</text>
<text x="451.34" y="337.35" text-anchor="middle">8</text>
<text x="466.55" y="337.35" text-anchor="middle">24</text>
<text x="481.76" y="337.35" text-anchor="middle">48</text>
<text x="496.97" y="337.35" text-anchor="middle">72</text>
<text x="512.18" y="337.35" text-anchor="middle">120</text>
</g>
<text class="pl" x="363.6" y="248.9">I</text>
<g class="ln">
<line x1="391.28" y1="263.83" x2="403.93" y2="311.55"/>
<line x1="391.4" y1="263.8" x2="403.81" y2="306.49"/>
<line x1="409.55" y1="313.77" x2="416.08" y2="317.51"/>
<line x1="425.42" y1="319.99" x2="430.63" y2="319.99"/>
<line x1="455.61" y1="258.69" x2="461.28" y2="260.47"/>
<line x1="471.05" y1="261.79" x2="476.26" y2="261.62"/>
<line x1="486.23" y1="261.97" x2="491.5" y2="262.53"/>
<line x1="501.47" y1="263.06" x2="506.68" y2="263.06"/>
<line x1="395" y1="259" x2="400.21" y2="259"/>
<line x1="410.21" y1="259" x2="415.42" y2="259"/>
<line x1="425.42" y1="259" x2="430.63" y2="259"/>
<line x1="440.63" y1="258.83" x2="445.84" y2="258.65"/>
<line x1="455.83" y1="258.86" x2="461.06" y2="259.26"/>
<line x1="471.05" y1="259.47" x2="476.26" y2="259.3"/>
<line x1="486.23" y1="259.66" x2="491.5" y2="260.21"/>
<line x1="501.47" y1="260.74" x2="506.68" y2="260.74"/>
</g>
<g><rect class="fs" x="386.6" y="255.6" width="6.8" height="7.0"/><rect class="os" x="401.86" y="313.03" width="6.7" height="6.7"/><path class="ot" d="M401.61 254.91H408.81L405.21 260.51Z"/><path class="ft" d="M401.41 308.39H409.01L405.21 314.19Z"/><circle class="ci" cx="405.21" cy="259" r="3.7"/><path class="ot" d="M416.82 254.91H424.02L420.42 260.51Z"/><path class="ft" d="M416.62 317.09H424.22L420.42 322.89Z"/><circle class="ci" cx="420.42" cy="259" r="3.7"/><path class="ot" d="M432.03 254.91H439.23L435.63 260.51Z"/><path class="ft" d="M431.83 317.09H439.43L435.63 322.89Z"/><circle class="ci" cx="435.63" cy="259" r="3.7"/><path class="ot" d="M447.24 254.4H454.44L450.84 260Z"/><circle class="ci" cx="450.84" cy="258.48" r="3.7"/><path class="ot" d="M462.45 259.16H469.65L466.05 264.76Z"/><circle class="ci" cx="466.05" cy="259.64" r="3.7"/><path class="ot" d="M477.66 258.65H484.86L481.26 264.25Z"/><circle class="ci" cx="481.26" cy="259.13" r="3.7"/><path class="ot" d="M492.87 260.26H500.07L496.47 265.86Z"/><circle class="ci" cx="496.47" cy="260.74" r="3.7"/><path class="ot" d="M508.08 260.26H515.28L511.68 265.86Z"/><circle class="ci" cx="511.68" cy="260.74" r="3.7"/></g>
<text class="ax" style="font-size:13.7px" transform="translate(11.0 240.2) rotate(-90)">Residual activity (%)</text>
<text class="ax" style="font-size:14px;letter-spacing:0.45px" x="241.6" y="359.7">Time (hours)</text>
</g>
</svg>
</body></html>
